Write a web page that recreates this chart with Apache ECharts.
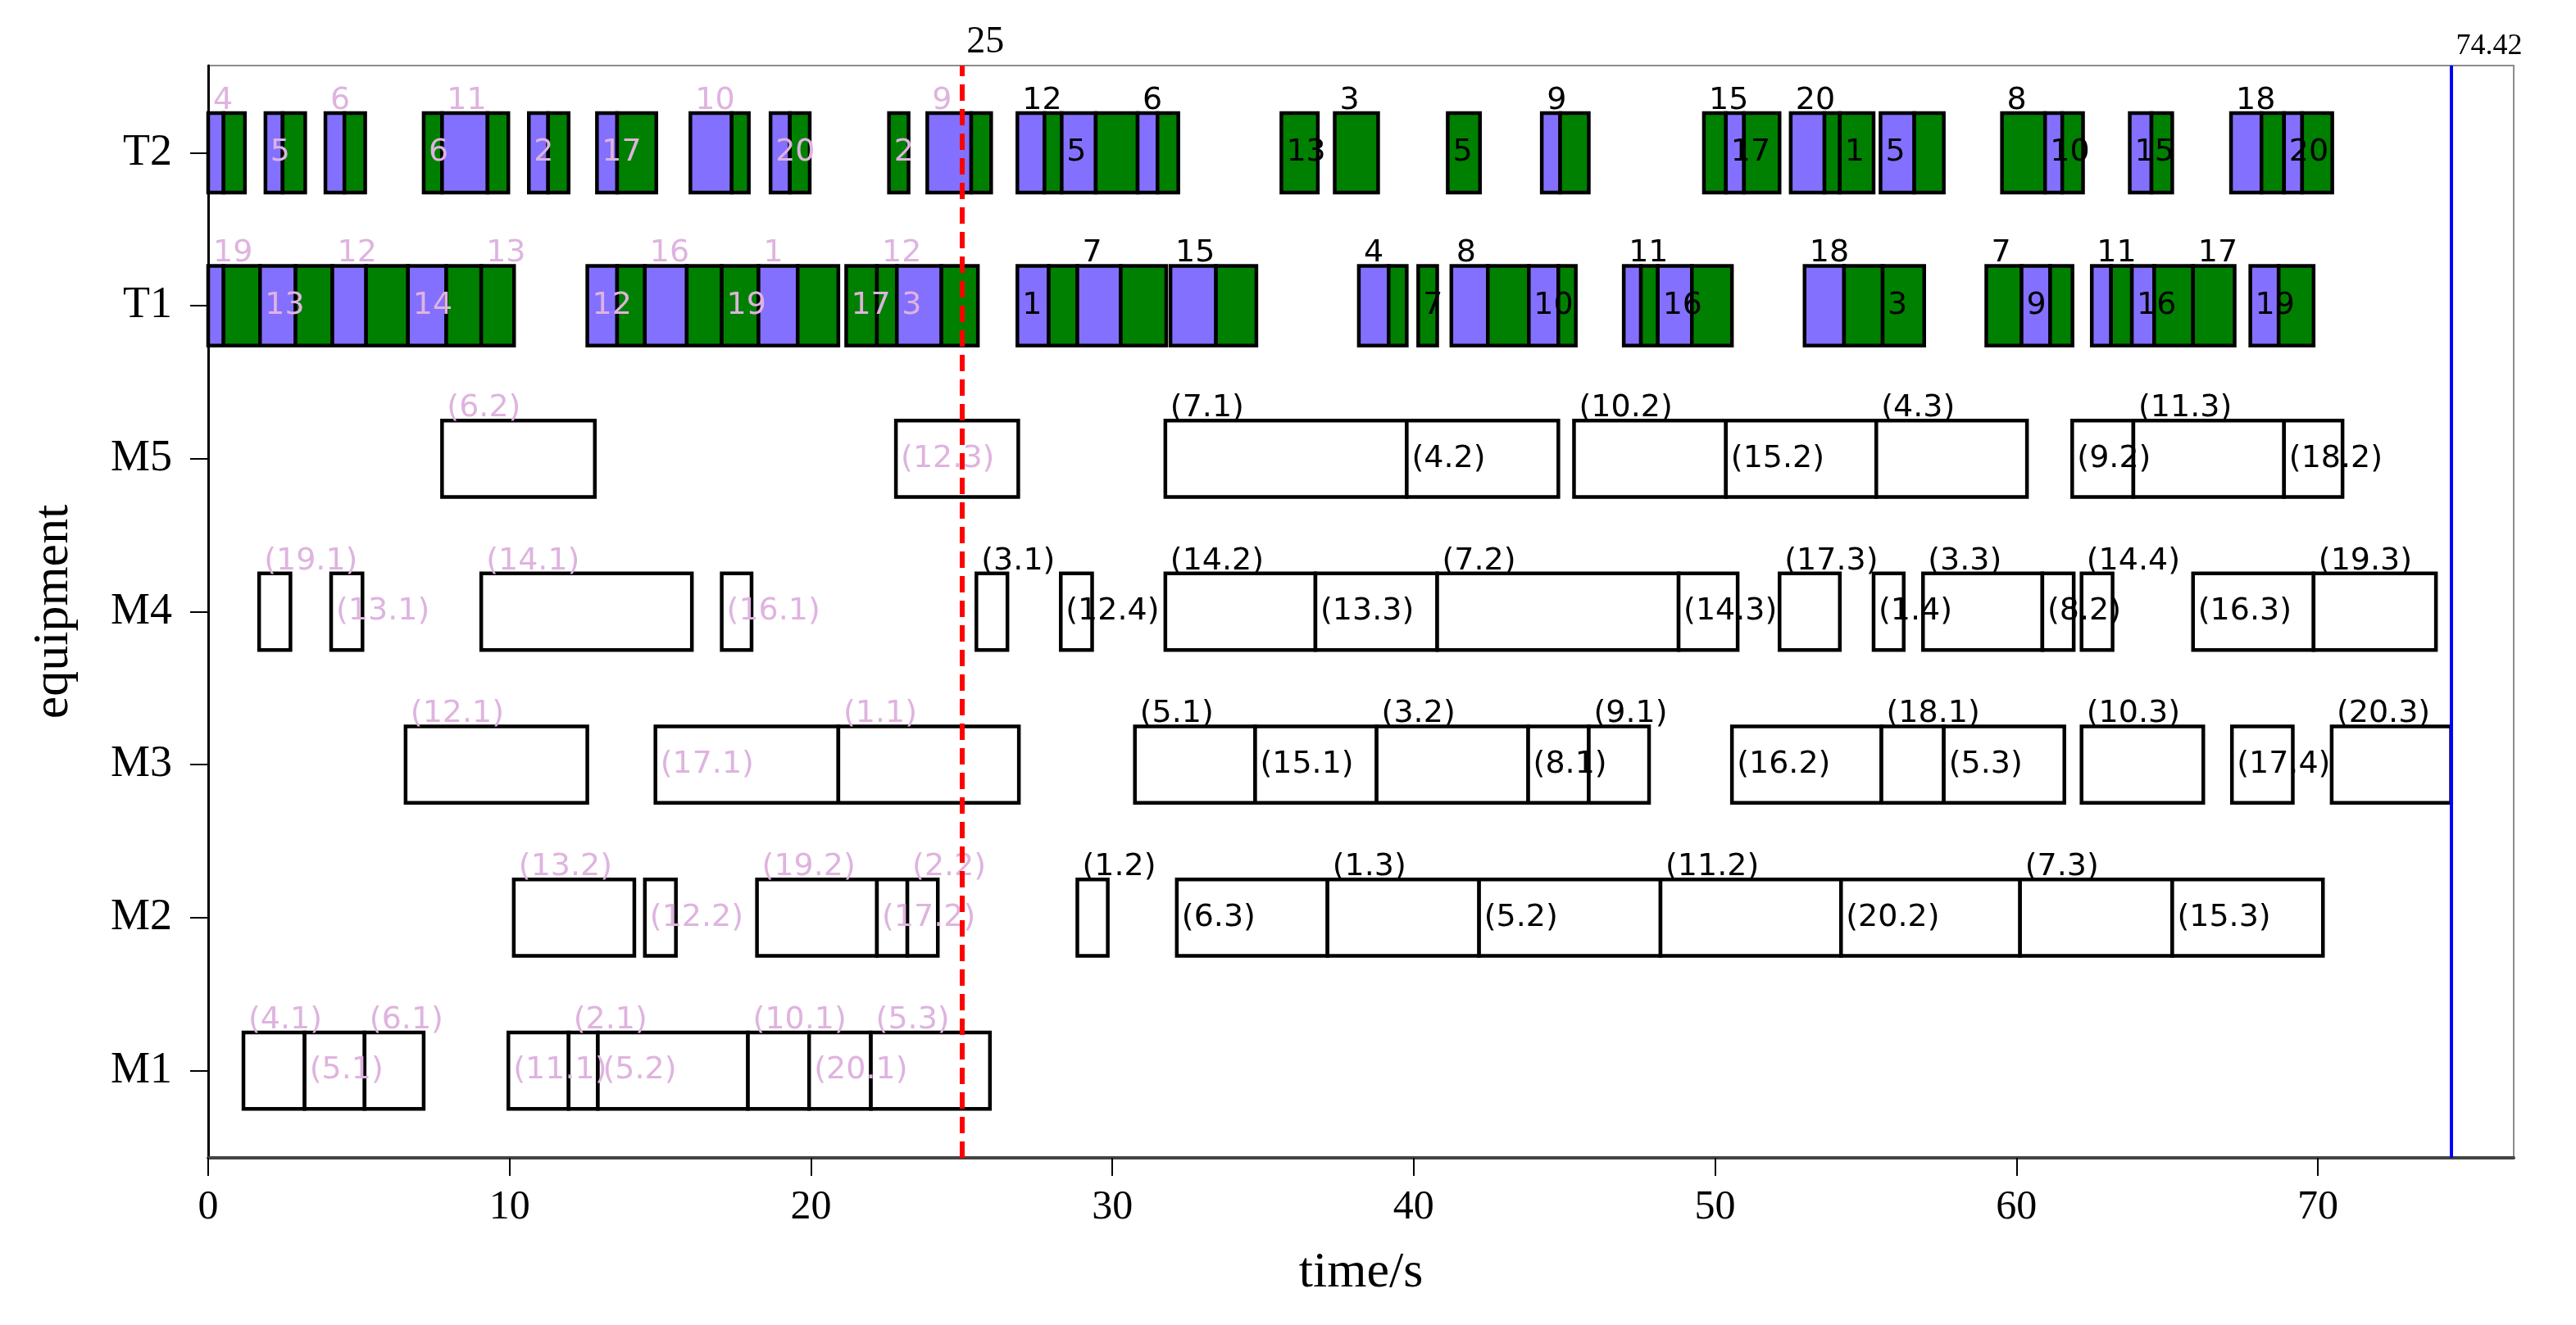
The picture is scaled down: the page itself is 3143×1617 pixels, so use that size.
<!DOCTYPE html>
<html><head><meta charset="utf-8">
<script src="https://cdn.jsdelivr.net/npm/echarts@6/dist/echarts.min.js"></script>
<style>html,body{margin:0;padding:0;background:#fff}#c{width:3143px;height:1617px}</style>
</head><body><div id="c"></div>
<script>
// ---------- data ----------
const equipment = ['M1', 'M2', 'M3', 'M4', 'M5', 'T1', 'T2'];
const timeTicks = [0, 10, 20, 30, 40, 50, 60, 70];
const currentTime = 25;
const makespan = 74.42;

// transport rows: [start, end, kind (p = empty move, g = loaded move), label, label place]
const T2 = [
  [0, 0.51, 'p', '4', 'top'], [0.51, 1.22, 'g'],
  [1.90, 2.47, 'p', '5', 'in'], [2.47, 3.22, 'g'],
  [3.89, 4.52, 'p', '6', 'top'], [4.52, 5.21, 'g'],
  [7.15, 7.76, 'g', '6', 'in'], [7.76, 9.27, 'p', '11', 'top'], [9.27, 9.96, 'g'],
  [10.64, 11.28, 'p', '2', 'in'], [11.28, 11.96, 'g'],
  [12.90, 13.57, 'p', '17', 'in'], [13.57, 14.87, 'g'],
  [16.00, 17.37, 'p', '10', 'top'], [17.37, 17.94, 'g'],
  [18.66, 19.30, 'p', '20', 'in'], [19.30, 19.96, 'g'],
  [22.59, 23.24, 'g', '2', 'in'],
  [23.86, 25.32, 'p', '9', 'top'], [25.32, 25.98, 'g'],
  [26.85, 27.75, 'p', '12', 'top'], [27.75, 28.32, 'g'], [28.32, 29.45, 'p', '5', 'in'],
  [29.45, 30.84, 'g'], [30.84, 31.50, 'p', '6', 'top'], [31.50, 32.19, 'g'],
  [35.61, 36.82, 'g', '13', 'in'],
  [37.38, 38.82, 'g', '3', 'top'],
  [41.13, 42.20, 'g', '5', 'in'],
  [44.25, 44.86, 'p', '9', 'top'], [44.86, 45.81, 'g'],
  [49.63, 50.36, 'g', '15', 'top'], [50.36, 50.96, 'p', '17', 'in'], [50.96, 52.14, 'g'],
  [52.51, 53.63, 'p', '20', 'top'], [53.63, 54.14, 'g'], [54.14, 55.26, 'g', '1', 'in'],
  [55.49, 56.61, 'p', '5', 'in'], [56.61, 57.59, 'g'],
  [59.52, 60.95, 'g', '8', 'top'], [60.95, 61.52, 'p', '10', 'in'], [61.52, 62.21, 'g'],
  [63.76, 64.48, 'p', '15', 'in'], [64.48, 65.17, 'g'],
  [67.12, 68.13, 'p', '18', 'top'], [68.13, 68.88, 'g'], [68.88, 69.48, 'p', '20', 'in'], [69.48, 70.48, 'g']
];
const T1 = [
  [0, 0.51, 'p', '19', 'top'], [0.51, 1.72, 'g'], [1.72, 2.90, 'p', '13', 'in'], [2.90, 4.12, 'g'],
  [4.12, 5.24, 'p', '12', 'top'], [5.24, 6.63, 'g'], [6.63, 7.90, 'p', '14', 'in'], [7.90, 9.06, 'g'],
  [9.06, 10.15, 'g', '13', 'top'],
  [12.58, 13.57, 'p', '12', 'in'], [13.57, 14.49, 'g'], [14.49, 15.88, 'p', '16', 'top'], [15.88, 17.04, 'g'],
  [17.04, 18.26, 'g', '19', 'in'], [18.26, 19.56, 'p', '1', 'top'], [19.56, 20.91, 'g'],
  [21.17, 22.19, 'g', '17', 'in'], [22.19, 22.85, 'g', '12', 'top'], [22.85, 24.33, 'p', '3', 'in'], [24.33, 25.54, 'g'],
  [26.85, 27.89, 'p', '1', 'in'], [27.89, 28.84, 'g'], [28.84, 30.28, 'p', '7', 'top'], [30.28, 31.79, 'g'],
  [31.93, 33.44, 'p', '15', 'top'], [33.44, 34.78, 'g'],
  [38.18, 39.17, 'p', '4', 'top'], [39.17, 39.77, 'g'],
  [40.15, 40.78, 'g', '7', 'in'],
  [41.25, 42.46, 'p', '8', 'top'], [42.46, 43.82, 'g'], [43.82, 44.80, 'p', '10', 'in'], [44.80, 45.38, 'g'],
  [46.97, 47.54, 'p', '11', 'top'], [47.54, 48.10, 'g'], [48.10, 49.23, 'p', '16', 'in'], [49.23, 50.56, 'g'],
  [52.97, 54.28, 'p', '18', 'top'], [54.28, 55.56, 'g'], [55.56, 56.94, 'g', '3', 'in'],
  [59.00, 60.17, 'g', '7', 'top'], [60.17, 61.12, 'p', '9', 'in'], [61.12, 61.86, 'g'],
  [62.50, 63.14, 'p', '11', 'top'], [63.14, 63.83, 'g'], [63.83, 64.57, 'p', '16', 'in'], [64.57, 65.86, 'g'],
  [65.86, 67.24, 'g', '17', 'top'],
  [67.76, 68.70, 'p', '19', 'in'], [68.70, 69.86, 'g']
];

// machine rows: [start, end, operation label, label place]
const M5 = [
  [7.76, 12.83, '(6.2)', 'top'], [22.82, 26.88, '(12.3)', 'in'],
  [31.76, 39.77, '(7.1)', 'top'], [39.77, 44.80, '(4.2)', 'in'],
  [45.32, 50.36, '(10.2)', 'top'], [50.36, 55.35, '(15.2)', 'in'], [55.35, 60.35, '(4.3)', 'top'],
  [61.85, 63.88, '(9.2)', 'in'], [63.88, 68.88, '(11.3)', 'top'], [68.88, 70.82, '(18.2)', 'in']
];
const M4 = [
  [1.69, 2.73, '(19.1)', 'top'], [4.08, 5.12, '(13.1)', 'in'], [9.06, 16.05, '(14.1)', 'top'],
  [17.04, 18.03, '(16.1)', 'in'], [25.49, 26.52, '(3.1)', 'top'], [28.29, 29.33, '(12.4)', 'in'],
  [31.76, 36.74, '(14.2)', 'top'], [36.74, 40.78, '(13.3)', 'in'], [40.78, 48.79, '(7.2)', 'top'],
  [48.79, 50.75, '(14.3)', 'in'], [52.14, 54.14, '(17.3)', 'top'], [55.26, 56.26, '(1.4)', 'in'],
  [56.90, 60.86, '(3.3)', 'top'], [60.86, 61.90, '(8.2)', 'in'], [62.16, 63.19, '(14.4)', 'top'],
  [65.86, 69.86, '(16.3)', 'in'], [69.86, 73.92, '(19.3)', 'top']
];
const M3 = [
  [6.55, 12.58, '(12.1)', 'top'], [14.84, 20.91, '(17.1)', 'in'], [20.91, 26.90, '(1.1)', 'top'],
  [30.75, 34.74, '(5.1)', 'top'], [34.74, 38.77, '(15.1)', 'in'], [38.77, 43.80, '(3.2)', 'top'],
  [43.80, 45.81, '(8.1)', 'in'], [45.81, 47.81, '(9.1)', 'top'],
  [50.56, 55.52, '(16.2)', 'in'], [55.52, 57.59, '(18.1)', 'top'], [57.59, 61.59, '(5.3)', 'in'],
  [62.16, 66.20, '(10.3)', 'top'], [67.15, 69.17, '(17.4)', 'in'], [70.46, 74.42, '(20.3)', 'top']
];
const M2 = [
  [10.14, 14.14, '(13.2)', 'top'], [14.49, 15.52, '(12.2)', 'in'],
  [18.21, 22.19, '(19.2)', 'top'], [22.19, 23.20, '(17.2)', 'in'], [23.20, 24.21, '(2.2)', 'top'],
  [28.84, 29.85, '(1.2)', 'top'],
  [32.14, 37.14, '(6.3)', 'in'], [37.14, 42.17, '(1.3)', 'top'], [42.17, 48.19, '(5.2)', 'in'],
  [48.19, 54.18, '(11.2)', 'top'], [54.18, 60.12, '(20.2)', 'in'], [60.12, 65.17, '(7.3)', 'top'],
  [65.17, 70.17, '(15.3)', 'in']
];
const M1 = [
  [1.17, 3.20, '(4.1)', 'top'], [3.20, 5.19, '(5.1)', 'in'], [5.19, 7.15, '(6.1)', 'top'],
  [9.96, 11.96, '(11.1)', 'in'], [11.96, 12.93, '(2.1)', 'top'], [12.93, 17.91, '(5.2)', 'in'],
  [17.91, 19.94, '(10.1)', 'top'], [19.94, 21.99, '(20.1)', 'in'], [21.99, 25.94, '(5.3)', 'top']
];

// ---------- build ----------
const PURPLE = '#8470ff', GREEN = '#008000', PINK = '#dfb3df';
const ops = [];
function addMachine(name, arr) {
  const row = equipment.indexOf(name) + 1;
  arr.forEach(d => ops.push({ start: d[0], end: d[1], row, kind: 'm', label: d[2], pos: d[3] }));
}
function addTransport(name, arr) {
  const row = equipment.indexOf(name) + 1;
  arr.forEach(d => ops.push({ start: d[0], end: d[1], row, kind: d[2], label: d[3] || '', pos: d[4] || '' }));
}
addMachine('M1', M1); addMachine('M2', M2); addMachine('M3', M3); addMachine('M4', M4); addMachine('M5', M5);
addTransport('T1', T1); addTransport('T2', T2);
const seriesData = ops.map(o => [o.start, o.end, o.row]);

function barH(o) { return o.kind === 'm' ? 0.5 : 0.52; }

function renderRect(params, api) {
  const o = ops[params.dataIndex];
  const a = api.coord([api.value(0), api.value(2)]);
  const b = api.coord([api.value(1), api.value(2)]);
  const h = api.size([0, barH(o)])[1];
  const fill = o.kind === 'p' ? PURPLE : o.kind === 'g' ? GREEN : '#ffffff';
  return {
    type: 'rect',
    shape: { x: a[0], y: a[1] - h / 2, width: b[0] - a[0], height: h },
    style: { fill, stroke: '#000', lineWidth: 4.5 }
  };
}
function renderLabel(params, api) {
  const o = ops[params.dataIndex];
  if (!o.label) return { type: 'group', children: [] };
  const a = api.coord([api.value(0), api.value(2)]);
  const h = api.size([0, barH(o)])[1];
  const top = o.pos === 'top';
  return {
    type: 'text',
    x: a[0] + 6,
    y: top ? a[1] - h / 2 + 4 : a[1],
    style: {
      text: o.label,
      fill: api.value(0) < currentTime ? PINK : '#000',
      fontSize: 38, fontFamily: 'DejaVu Sans',
      align: 'left', verticalAlign: top ? 'bottom' : 'middle'
    }
  };
}

const chart = echarts.init(document.getElementById('c'));
chart.setOption({
  animation: false,
  backgroundColor: '#fff',
  grid: { left: 254, right: 76, top: 80, bottom: 204, show: true, borderColor: '#8c8c8c', borderWidth: 2, containLabel: false, outerBoundsMode: 'none' },
  xAxis: {
    type: 'value', min: 0, max: 76.5,
    name: 'time/s', nameLocation: 'middle', nameGap: 110,
    nameTextStyle: { fontFamily: 'Liberation Serif', fontSize: 62, color: '#000' },
    axisLine: { show: true, onZero: false, lineStyle: { color: '#444', width: 4 } },
    axisTick: { show: true, length: 22, lineStyle: { color: '#000', width: 2 }, customValues: timeTicks },
    axisLabel: { customValues: timeTicks, margin: 36, fontFamily: 'Liberation Serif', fontSize: 50, color: '#000' },
    splitLine: { show: false }
  },
  yAxis: {
    type: 'value', min: 0.43, max: 7.57,
    name: 'equipment', nameLocation: 'middle', nameGap: 157, nameRotate: 90,
    nameTextStyle: { fontFamily: 'Liberation Serif', fontSize: 62, color: '#000' },
    axisLine: { show: true, onZero: false, lineStyle: { color: '#000', width: 3 } },
    axisTick: { show: true, length: 22, lineStyle: { color: '#000', width: 2 }, customValues: [1, 2, 3, 4, 5, 6, 7] },
    axisLabel: {
      customValues: [1, 2, 3, 4, 5, 6, 7], margin: 44,
      formatter: v => equipment[Math.round(v) - 1] || '',
      fontFamily: 'Liberation Serif', fontSize: 54, color: '#000'
    },
    splitLine: { show: false }
  },
  series: [
    { type: 'custom', renderItem: renderRect, data: seriesData, encode: { x: [0, 1], y: 2 }, clip: false, z: 2 },
    { type: 'custom', renderItem: renderLabel, data: seriesData, encode: { x: [0, 1], y: 2 }, clip: false, z: 3 },
    {
      type: 'line', data: [], z: 5,
      markLine: {
        silent: true, symbol: ['none', 'none'], animation: false,
        label: { show: true, position: 'end', align: 'left', padding: [0, 0, 0, 6], color: '#000', fontFamily: 'Liberation Serif' },
        data: [
          { xAxis: currentTime, lineStyle: { color: '#ff0000', type: [20, 10], width: 6 }, label: { formatter: String(currentTime), fontSize: 46 } },
          { xAxis: makespan, lineStyle: { color: '#0000ff', type: 'solid', width: 4 }, label: { formatter: String(makespan), fontSize: 36 } }
        ]
      }
    }
  ]
});
</script></body></html>
